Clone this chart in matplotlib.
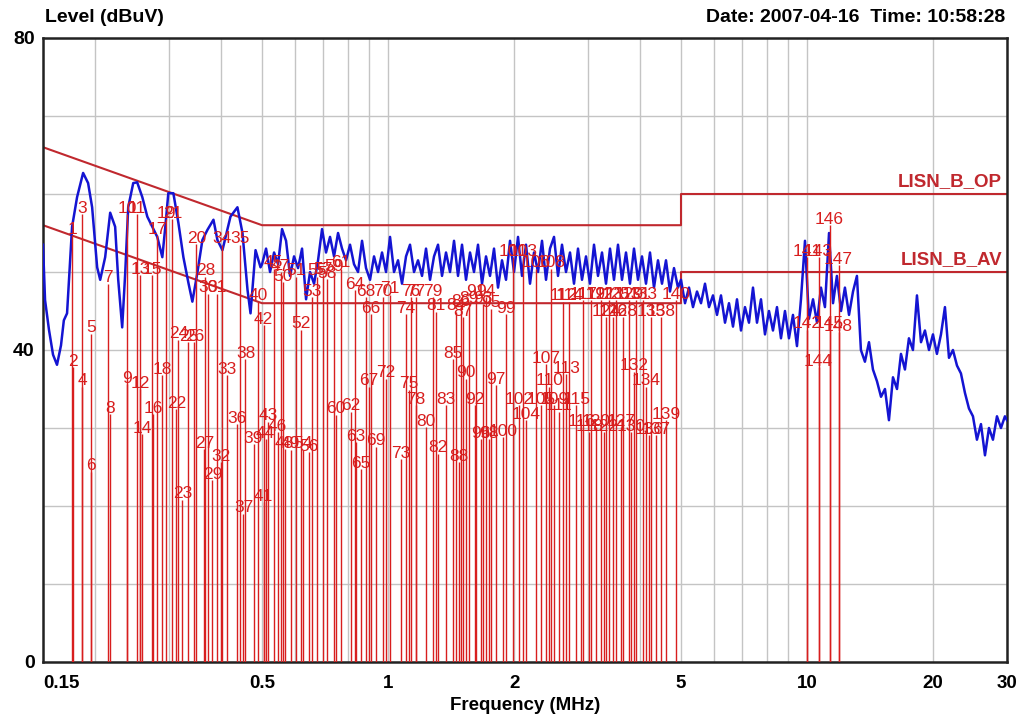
import numpy as np
import matplotlib
matplotlib.use("Agg")
import matplotlib.pyplot as plt

plt.rcParams['font.family'] = ['Liberation Sans', 'DejaVu Sans']

# Scan trace (MHz, dBuV)
trace_freq = [
    0.150, 0.1517, 0.1550, 0.1585, 0.1620, 0.1656, 0.1682, 0.1712, 0.1760, 0.1809,
    0.1870, 0.1922, 0.1965, 0.2020, 0.2054, 0.2111, 0.2170, 0.2230, 0.2268, 0.2318,
    0.2357, 0.2396, 0.2463, 0.2517, 0.2589, 0.2661, 0.2811, 0.2890, 0.2938, 0.2987,
    0.3071, 0.3157, 0.3245, 0.3336, 0.3409, 0.3504, 0.3602, 0.3703, 0.3828, 0.3912,
    0.4022, 0.4203, 0.4367, 0.4490, 0.4616, 0.4693, 0.4824, 0.4958,
    # 0.5 - 5 MHz
    0.5000, 0.5111, 0.5225, 0.5341, 0.5460, 0.5581, 0.5705, 0.5832, 0.5961, 0.6094,
    0.6229, 0.6368, 0.6509, 0.6654, 0.6802, 0.6953, 0.7107, 0.7265, 0.7427, 0.7592,
    0.7760, 0.7933, 0.8109, 0.8289, 0.8474, 0.8662, 0.8854, 0.9051, 0.9252, 0.9458,
    0.9668, 0.9883, 1.0103, 1.0327, 1.0557, 1.0791, 1.1031, 1.1276, 1.1527, 1.1783,
    1.2045, 1.2313, 1.2586, 1.2866, 1.3152, 1.3444, 1.3743, 1.4049, 1.4361, 1.4680,
    1.5006, 1.5340, 1.5681, 1.6029, 1.6385, 1.6750, 1.7122, 1.7502, 1.7891, 1.8289,
    1.8695, 1.9111, 1.9536, 1.9970, 2.0414, 2.0867, 2.1331, 2.1805, 2.2290, 2.2785,
    2.3292, 2.3809, 2.4339, 2.4880, 2.5433, 2.5998, 2.6576, 2.7166, 2.7770, 2.8387,
    2.9018, 2.9663, 3.0322, 3.0996, 3.1685, 3.2390, 3.3109, 3.3845, 3.4597, 3.5366,
    3.6152, 3.6956, 3.7777, 3.8617, 3.9475, 4.0352, 4.1249, 4.2166, 4.3103, 4.4061,
    4.5040, 4.6041, 4.7065, 4.8111, 4.9180,
    # 5 - 30 MHz
    5.000, 5.111, 5.225, 5.341, 5.460, 5.581, 5.705, 5.832, 5.961, 6.094,
    6.229, 6.368, 6.509, 6.654, 6.802, 6.953, 7.107, 7.265, 7.427, 7.592,
    7.760, 7.933, 8.109, 8.289, 8.474, 8.662, 8.854, 9.051, 9.252, 9.458,
    9.668, 9.883, 10.10, 10.33, 10.56, 10.79, 11.03, 11.28, 11.53, 11.78,
    12.05, 12.31, 12.59, 12.87, 13.15, 13.44, 13.74, 14.05, 14.36, 14.68,
    15.01, 15.34, 15.68, 16.03, 16.39, 16.75, 17.12, 17.50, 17.89, 18.29,
    18.70, 19.11, 19.54, 19.97, 20.41, 20.87, 21.33, 21.81, 22.29, 22.79,
    23.29, 23.81, 24.34, 24.88, 25.43, 26.00, 26.58, 27.17, 27.77, 28.39,
    29.02, 29.66, 30.00,
]
trace_level = [
    53.5, 46.4, 42.6, 39.4, 38.1, 40.6, 43.8, 44.7, 55.8, 59.6,
    62.7, 61.4, 58.3, 50.6, 49.0, 51.9, 57.6, 55.8, 49.0, 42.9,
    49.9, 58.3, 61.4, 61.5, 59.6, 57.1, 54.5, 51.9, 55.8, 60.1,
    60.1, 56.3, 51.9, 48.6, 46.2, 49.9, 54.1, 55.4, 56.7, 54.1,
    52.8, 57.1, 58.3, 55.0, 47.7, 44.7, 52.8, 50.6,
    # 0.5 - 5 MHz
    51.0, 53.0, 50.0, 52.5, 51.0, 55.5, 54.0, 49.5, 52.0, 50.5,
    53.0, 46.5, 50.0, 48.5, 51.5, 55.5, 52.5, 54.5, 52.0, 55.0,
    53.0, 51.5, 53.5, 51.0, 50.0, 54.0, 50.5, 49.0, 52.0, 50.0,
    52.5, 50.0, 54.5, 50.0, 51.5, 48.5, 52.0, 53.5, 50.0, 51.5,
    49.5, 53.0, 49.0, 52.0, 53.5, 49.5, 52.5, 50.0, 54.0, 49.5,
    53.5, 49.0, 52.5, 50.0, 53.5, 48.5, 52.0, 49.5, 53.0, 48.0,
    51.5, 49.0, 54.0, 50.0, 54.5, 49.5, 53.5, 48.5, 52.5, 50.0,
    54.0, 49.0, 53.0, 54.5, 49.5, 53.5, 50.0, 52.5, 48.5, 53.0,
    49.0, 52.0, 48.5, 53.5, 49.5, 52.5, 48.5, 53.0, 49.0, 53.5,
    49.0, 52.5, 48.5, 53.0, 49.0, 52.0, 48.5, 52.5, 48.0, 51.5,
    48.5, 51.5, 47.5, 50.5, 48.0,
    # 5 - 30 MHz
    49.0, 46.0, 48.0, 45.5, 47.5, 46.0, 48.5, 45.5, 47.0, 44.5,
    47.0, 43.5, 46.0, 43.0, 46.5, 42.5, 45.5, 43.5, 48.0, 43.5,
    46.5, 42.0, 45.0, 42.5, 45.5, 41.5, 45.0, 41.5, 44.5, 40.5,
    46.5, 54.0, 44.0, 46.5, 43.5, 48.0, 45.5, 55.0, 46.0, 49.5,
    45.0, 48.0, 44.5, 47.5, 49.5, 40.0, 38.5, 41.0, 37.5, 36.0,
    34.0, 35.0, 31.0, 36.5, 35.0, 39.5, 37.5, 41.5, 40.0, 47.0,
    41.0, 42.5, 40.0, 42.0, 39.5, 42.0, 45.5, 39.0, 40.0, 38.0,
    37.0, 34.5, 32.5, 31.5, 28.5, 30.5, 26.5, 30.0, 28.5, 31.5,
    30.0, 31.5, 31.0,
]

# Limit lines (CISPR class B, QP and AV)
limit_freq = [0.15, 0.5, 5.0, 5.0, 30.0]
qp_limit = [66, 56, 56, 60, 60]
av_limit = [56, 46, 46, 50, 50]

# Final measurement markers (MHz, dBuV), numbered 1..148
marker_freq = [
    0.1760, 0.1770, 0.1860, 0.1860, 0.1955, 0.1955, 0.2146, 0.2170, 0.2383, 0.2383,
    0.2517, 0.2560, 0.2560, 0.2589, 0.2735, 0.2750, 0.2811, 0.2890, 0.2954, 0.3485,
    0.3054, 0.3123, 0.3227, 0.3157, 0.3336, 0.3447, 0.3642, 0.3662, 0.3807, 0.3723,
    0.3912, 0.4000, 0.4133, 0.4022, 0.4440, 0.4367, 0.4515, 0.4565, 0.4771, 0.4903,
    0.5041, 0.5041, 0.5180, 0.5097, 0.5327, 0.5445, 0.5535, 0.5660, 0.5850, 0.5598,
    0.6014, 0.6182, 0.6568, 0.6250, 0.6750, 0.6460, 0.6978, 0.7133, 0.7414, 0.7496,
    0.7705, 0.8142, 0.8370, 0.8324, 0.8602, 0.9092, 0.8991, 0.8844, 0.9344, 0.9712,
    1.010, 0.9874, 1.073, 1.102, 1.120, 1.133, 1.165, 1.165, 1.279, 1.230,
    1.300, 1.315, 1.374, 1.452, 1.428, 1.493, 1.509, 1.476, 1.560, 1.535,
    1.621, 1.612, 1.685, 1.713, 1.760, 1.666, 1.810, 1.741, 1.912, 1.881,
    1.987, 2.054, 2.100, 2.134, 2.318, 2.255, 2.383, 2.449, 2.490, 2.422,
    2.559, 2.616, 2.660, 2.704, 2.811, 2.889, 2.921, 3.020, 3.053, 3.138,
    3.226, 3.280, 3.371, 3.316, 3.503, 3.446, 3.601, 3.641, 3.764, 3.805,
    3.911, 3.869, 4.066, 4.132, 4.248, 4.200, 4.366, 4.488, 4.613, 4.874,
    10.02, 10.02, 10.65, 10.65, 11.31, 11.31, 11.89, 11.89,
]
marker_level = [
    54.7, 37.8, 57.4, 35.3, 42.1, 24.4, 48.5, 31.8, 35.6, 57.4,
    57.4, 35.0, 49.6, 29.2, 49.6, 31.8, 54.7, 36.8, 56.8, 53.6,
    56.8, 32.4, 20.8, 41.3, 41.0, 41.0, 27.3, 49.4, 23.3, 47.2,
    47.2, 25.6, 36.8, 53.5, 53.5, 30.5, 19.0, 38.8, 27.9, 46.2,
    20.5, 43.2, 30.8, 28.6, 50.4, 29.5, 50.0, 27.3, 27.2, 48.7,
    49.4, 42.6, 46.8, 27.2, 49.4, 26.9, 49.6, 49.1, 50.0, 31.7,
    50.4, 32.1, 28.2, 47.7, 24.7, 44.6, 35.3, 46.8, 27.6, 46.8,
    47.1, 36.3, 26.0, 44.6, 34.9, 46.8, 46.8, 32.9, 46.8, 30.1,
    44.9, 26.7, 32.9, 44.9, 38.8, 45.5, 44.2, 25.6, 45.9, 36.3,
    46.8, 32.9, 45.9, 46.8, 45.3, 28.6, 35.5, 28.6, 44.6, 28.8,
    51.9, 32.9, 51.9, 31.0, 32.9, 50.4, 38.2, 50.4, 32.9, 35.3,
    32.1, 46.2, 36.9, 46.2, 32.9, 30.1, 46.4, 29.5, 46.4, 30.1,
    46.4, 29.5, 46.4, 44.2, 46.4, 44.2, 30.1, 44.2, 46.4, 29.5,
    46.4, 37.2, 46.4, 35.3, 44.2, 29.1, 29.1, 44.2, 31.0, 46.4,
    51.9, 42.6, 51.9, 37.8, 42.6, 56.0, 50.9, 42.3,
]
marker_no = np.arange(1, len(marker_freq) + 1)

x_ticks = [0.15, 0.5, 1, 2, 5, 10, 20, 30]
x_ticklabels = ['0.15', '0.5', '1', '2', '5', '10', '20', '30']

limit_red = '#c0282e'
marker_red = '#d81e1e'

fig = plt.figure(figsize=(10.29, 7.18), dpi=100)
ax = fig.add_axes([43 / 1029, 56 / 718, 964 / 1029, 624 / 718])
ax.set_xscale('log')
ax.set_xlim(0.15, 30)
ax.set_ylim(0, 80)

# grid: every log minor step in x, every 10 dB in y
minor_x = [0.2, 0.3, 0.4, 0.6, 0.7, 0.8, 0.9, 3, 4, 6, 7, 8, 9]
ax.set_xticks(x_ticks)
ax.set_xticklabels(x_ticklabels)
ax.set_xticks(minor_x, minor=True)
ax.xaxis.set_minor_formatter(plt.NullFormatter())
ax.set_yticks([0, 40, 80])
ax.set_yticks([10, 20, 30, 50, 60, 70], minor=True)
ax.grid(True, which='both', color='#c4c4c4', lw=1.0)
ax.set_axisbelow(True)
ax.tick_params(which='both', length=0)
ax.tick_params(axis='x', pad=9, labelsize=13.5)
ax.tick_params(axis='y', pad=6, labelsize=14)
for lab in ax.get_xticklabels() + ax.get_yticklabels():
    lab.set_fontweight('bold')
ax.get_xticklabels()[0].set_horizontalalignment('left')
for sp in ax.spines.values():
    sp.set_linewidth(1.8)
    sp.set_color('#222222')

# limit lines
ax.plot(limit_freq, qp_limit, color=limit_red, lw=1.5, zorder=2)
ax.plot(limit_freq, av_limit, color=limit_red, lw=1.5, zorder=2)
ax.text(0.995, 60.5, 'LISN_B_OP', transform=ax.get_yaxis_transform(),
        ha='right', va='bottom', color=limit_red, fontsize=13.5, fontweight='bold')
ax.text(0.995, 50.5, 'LISN_B_AV', transform=ax.get_yaxis_transform(),
        ha='right', va='bottom', color=limit_red, fontsize=13.5, fontweight='bold')

# scan trace
ax.plot(trace_freq, trace_level, color='#1414d2', lw=1.8, zorder=3)

# markers
ax.vlines(marker_freq, 0, marker_level, colors=marker_red, lw=1.0, zorder=4)
for n, f, lv in zip(marker_no, marker_freq, marker_level):
    ax.annotate(str(n), (f, lv), xytext=(0, 1), textcoords='offset points',
                ha='center', va='baseline', color=marker_red, fontsize=12.5, zorder=5)

fig.text(45 / 1029, 1 - 18 / 718, 'Level (dBuV)', ha='left', va='center',
         fontsize=14, fontweight='bold')
fig.text(1005 / 1029, 1 - 18 / 718, 'Date: 2007-04-16  Time: 10:58:28', ha='right',
         va='center', fontsize=14, fontweight='bold')
ax.set_xlabel('Frequency (MHz)', fontsize=13.5, fontweight='bold', labelpad=4)

fig.savefig('out.png', dpi=100)
